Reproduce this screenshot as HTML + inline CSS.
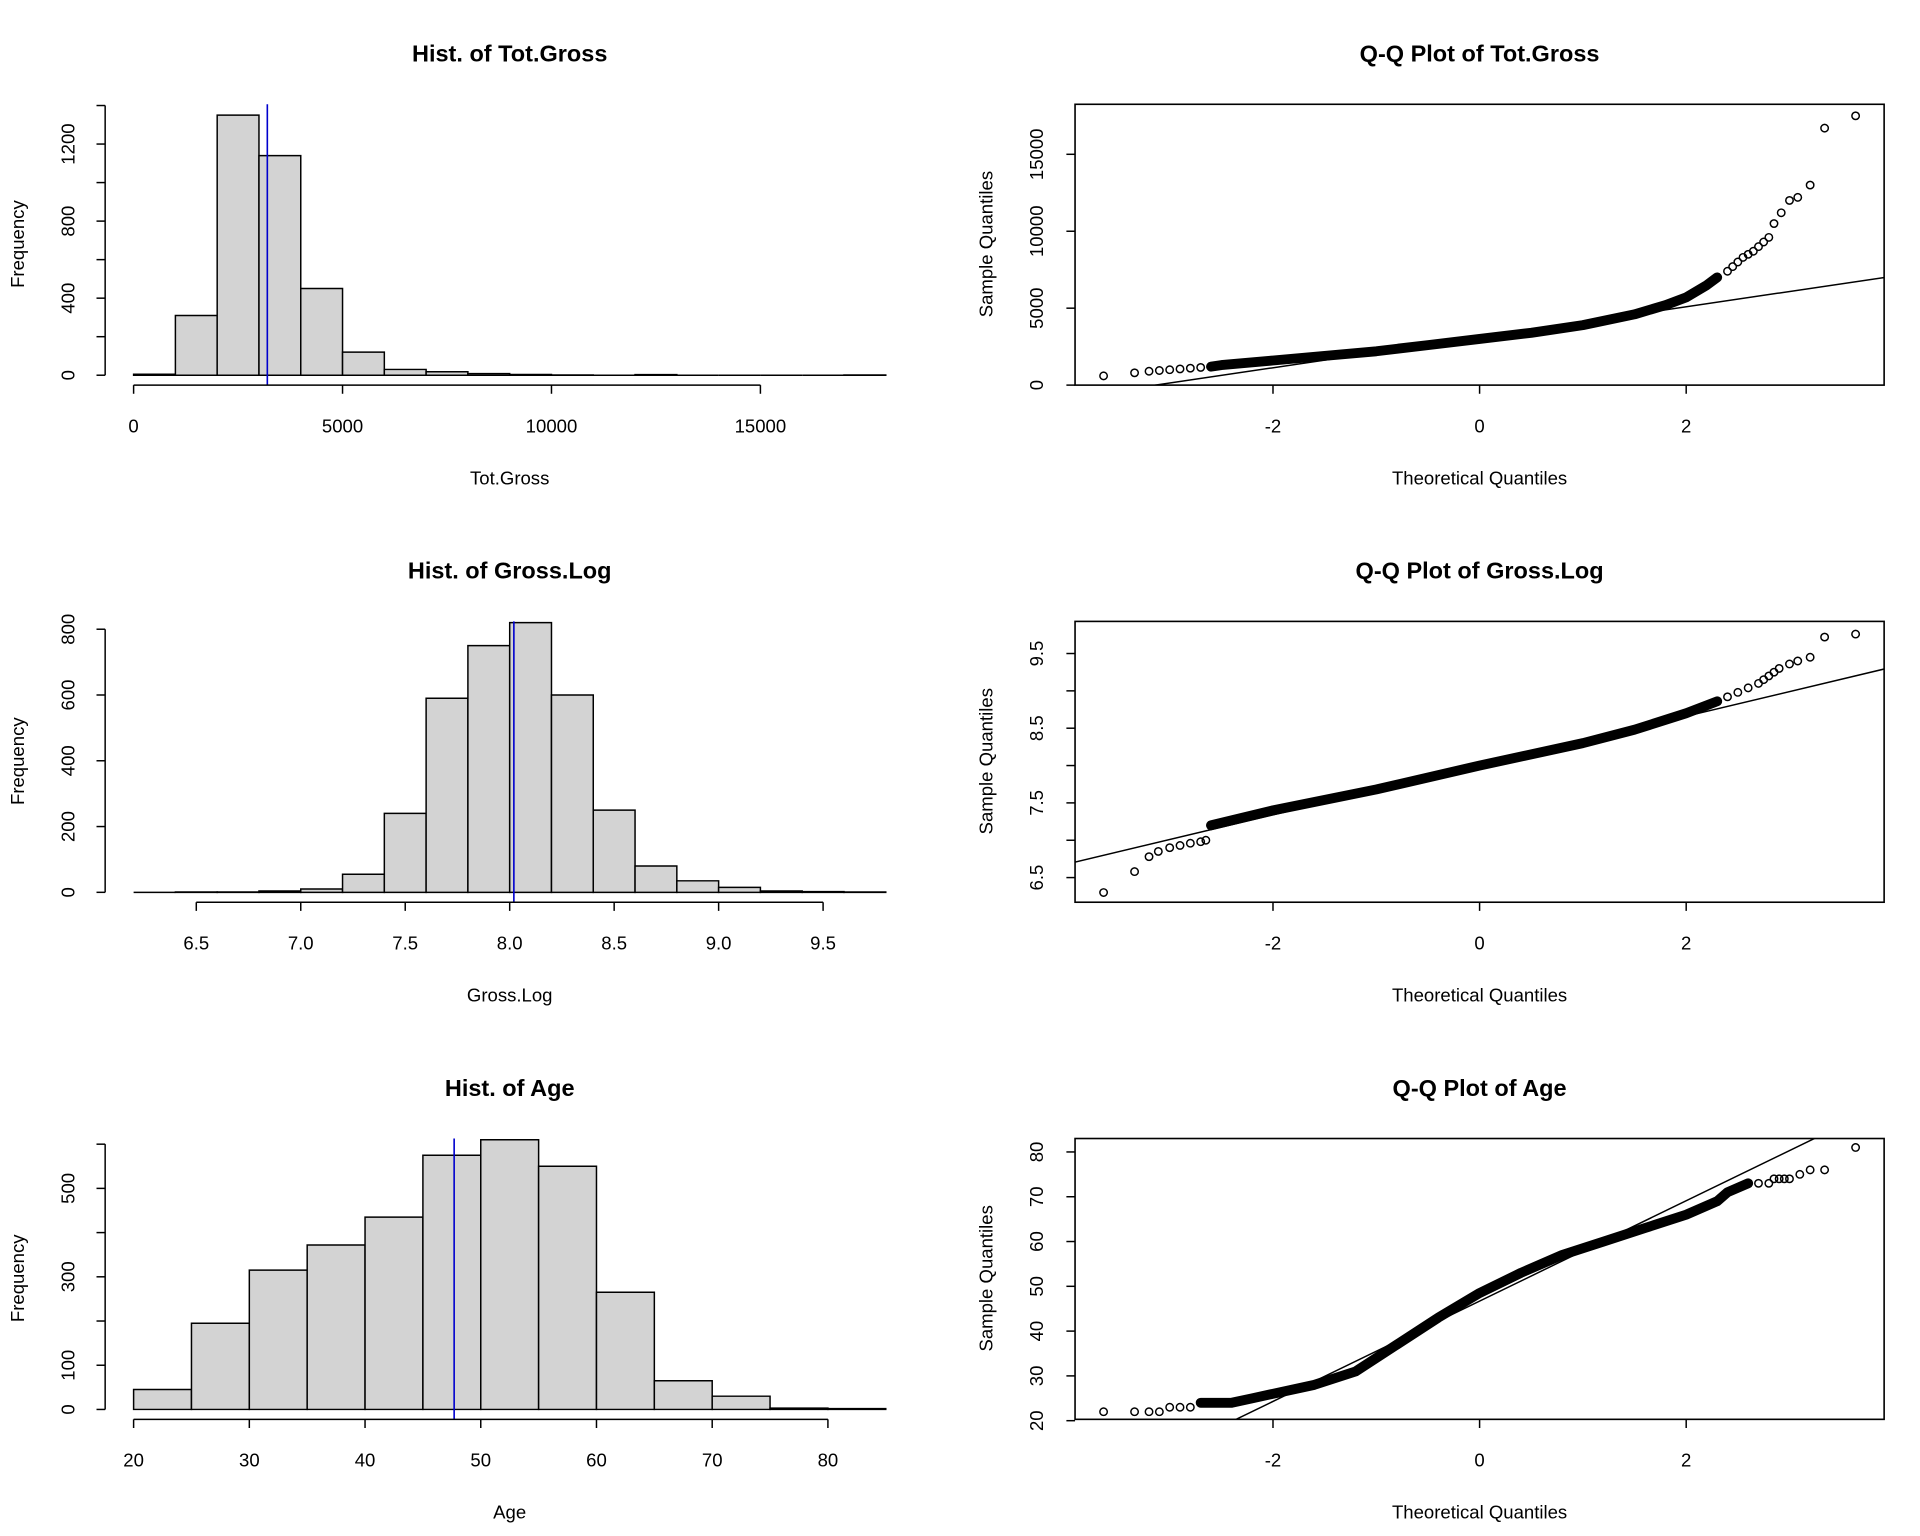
<!DOCTYPE html>
<html><head><meta charset="utf-8"><style>
html,body{margin:0;padding:0;background:#fff}
svg{display:block}
text{font-family:"Liberation Sans",Arial,sans-serif;fill:#000}
</style></head><body>
<svg id="chart" width="1920" height="1536" viewBox="0 0 1552 1241" xmlns="http://www.w3.org/2000/svg"></svg>
<script>
// ---------- data ----------
const h1Breaks = [0,1000,2000,3000,4000,5000,6000,7000,8000,9000,10000,11000,12000,13000,14000,15000,16000,17000,18000];
const h1Counts = [5,310,1350,1140,450,120,30,18,8,4,1,0,3,0,0,0,0,1];
const h1Mean = 3200;
const h1XTicks = [0,5000,10000,15000];
const h1XLabels = ['0','5000','10000','15000'];
const h1YTicks = [0,200,400,600,800,1000,1200,1400];
const h1YLabels = [0,400,800,1200];

const h2Breaks = [6.2,6.4,6.6,6.8,7.0,7.2,7.4,7.6,7.8,8.0,8.2,8.4,8.6,8.8,9.0,9.2,9.4,9.6,9.8];
const h2Counts = [0,1,1,4,10,55,240,590,750,820,600,250,80,35,15,4,2,1];
const h2Mean = 8.02;
const h2XTicks = [6.5,7.0,7.5,8.0,8.5,9.0,9.5];
const h2XLabels = ['6.5','7.0','7.5','8.0','8.5','9.0','9.5'];
const h2YTicks = [0,200,400,600,800];
const h2YLabels = [0,200,400,600,800];

const h3Breaks = [20,25,30,35,40,45,50,55,60,65,70,75,80,85];
const h3Counts = [45,195,315,372,435,575,610,550,265,65,30,3,2];
const h3Mean = 47.7;
const h3XTicks = [20,30,40,50,60,70,80];
const h3XLabels = ['20','30','40','50','60','70','80'];
const h3YTicks = [0,100,200,300,400,500,600];
const h3YLabels = [0,100,300,500];

const q1Theo = [-3.64,-3.34,-3.2,-3.1,-3.0,-2.9,-2.8,-2.7,-2.6,-2.5,-2.0,-1.5,-1.0,-0.5,0,0.5,1.0,1.5,1.8,2.0,2.1,2.2,2.3,2.4,2.45,2.5,2.55,2.6,2.65,2.7,2.75,2.8,2.85,2.92,3.0,3.08,3.2,3.34,3.64];
const q1Samp = [600,800,900,950,1000,1050,1100,1150,1200,1300,1600,1900,2200,2600,3000,3400,3900,4600,5200,5700,6100,6500,7000,7400,7700,8000,8300,8500,8700,9000,9300,9600,10500,11200,12000,12200,13000,16700,17500];
const q1Dense = [-2.6,2.3];
const q1Line = [3110,991];
const q1YTicks = [0,5000,10000,15000];

const q2Theo = [-3.64,-3.34,-3.2,-3.11,-3.0,-2.9,-2.8,-2.7,-2.65,-2.6,-2.0,-1.0,0,1.0,1.5,2.0,2.3,2.4,2.5,2.6,2.7,2.75,2.8,2.85,2.9,3.0,3.08,3.2,3.34,3.64];
const q2Samp = [6.3,6.58,6.78,6.85,6.9,6.93,6.96,6.98,7.0,7.2,7.4,7.68,8.0,8.3,8.48,8.7,8.86,8.92,8.98,9.04,9.1,9.15,9.2,9.25,9.3,9.36,9.4,9.45,9.72,9.76];
const q2Dense = [-2.6,2.3];
const q2Line = [8.0,0.33];
const q2YTicks = [6.5,7.0,7.5,8.0,8.5,9.0,9.5];
const q2YLabels = [6.5,7.5,8.5,9.5];

const q3Theo = [-3.64,-3.34,-3.2,-3.1,-3.0,-2.9,-2.8,-2.7,-2.4,-2.2,-2.0,-1.6,-1.2,-0.8,-0.4,0,0.4,0.8,1.2,1.6,2.0,2.3,2.4,2.6,2.7,2.8,2.85,2.9,2.95,3.0,3.1,3.2,3.34,3.64];
const q3Samp = [22,22,22,22,23,23,23,24,24,25,26,28,31,37,43,48.5,53,57,60,63,66,69,71,73,73,73,74,74,74,74,75,76,76,81];
const q3Dense = [-2.7,2.6];
const q3Line = [46.7,11.2];
const q3YTicks = [20,30,40,50,60,70,80];
const qXTicks = [-2,0,2];

// ---------- drawing ----------
const svg = document.getElementById('chart');
const NS = 'http://www.w3.org/2000/svg';
function mk(tag, attrs, parent){const e=document.createElementNS(NS,tag);for(const k in attrs)e.setAttribute(k,attrs[k]);(parent||svg).appendChild(e);return e;}
function txt(s,x,y,size,opts,parent){const t=mk('text',Object.assign({x:x,y:y,'font-size':size,'text-anchor':'middle','dominant-baseline':'central'},opts||{}),parent);t.textContent=s;return t;}

function hist(name, off, breaks, counts, mean, xt, xlab, yt, yl, xmin, xmax, ymax, title, xlabel){
  const g = mk('g',{});
  
  
  const top=84+off, bot=311+off, base=bot-8;
  const sx = v => 108 + (v-xmin)/(xmax-xmin)*(716-108);
  const sy = v => base - v/ymax*(base-top-1);
  const tt = txt(title,412,43+off,19,{'font-weight':'bold'},g);
  
  
  for(let i=0;i<counts.length;i++){
    const x0=sx(breaks[i]), x1=sx(breaks[i+1]), y=sy(counts[i]);
    const r = mk('path',{d:`M${x0},${base}L${x0},${y}L${x1},${y}L${x1},${base}Z`,fill:'#d3d3d3',stroke:'#000','stroke-width':1.2},g);
    
    
  }
  const ml = mk('line',{x1:sx(mean),x2:sx(mean),y1:top,y2:bot,stroke:'#0000cd','stroke-width':1.3},g);
  
  
  mk('line',{x1:sx(xt[0]),x2:sx(xt[xt.length-1]),y1:bot,y2:bot,stroke:'#000','stroke-width':1.2},g);
  xt.forEach((v,i)=>{mk('line',{x1:sx(v),x2:sx(v),y1:bot,y2:bot+7,stroke:'#000','stroke-width':1.2},g);txt(xlab[i],sx(v),344+off,15,{},g);});
  mk('line',{x1:85,x2:85,y1:sy(yt[0]),y2:sy(yt[yt.length-1]),stroke:'#000','stroke-width':1.2},g);
  yt.forEach(v=>mk('line',{x1:85,x2:78,y1:sy(v),y2:sy(v),stroke:'#000','stroke-width':1.2},g));
  yl.forEach(v=>txt(String(v),55,sy(v),15,{transform:`rotate(-90 55 ${sy(v)})`},g));
  const xl = txt(xlabel,412,386+off,15,{},g);
  
  
  const ylab = txt('Frequency',14,197+off,15,{transform:`rotate(-90 14 ${197+off})`},g);
  
  
}

function qq(name, off, theo, samp, dense, line, yt, yl, ymin, ymax, title){
  const g = mk('g',{});
  
  
  const top=84+off, bot=311+off;
  const sx = v => 1196 + v*83.5;
  const sy = v => bot - (v-ymin)/(ymax-ymin)*(bot-top);
  const tt = txt(title,1196,43+off,19,{'font-weight':'bold'},g);
  
  
  const clipId='c'+name;
  const cp = mk('clipPath',{id:clipId},g);
  mk('rect',{x:869,y:top,width:654,height:bot-top},cp);
  const x0=-4.0, x1=4.0;
  const ql = mk('line',{x1:sx(x0),y1:sy(line[0]+line[1]*x0),x2:sx(x1),y2:sy(line[0]+line[1]*x1),stroke:'#000','stroke-width':1.2,'clip-path':`url(#${clipId})`},g);
  
  
  let d='';
  theo.forEach((t,i)=>{ if(t>=dense[0]&&t<=dense[1]) d+=(d?'L':'M')+sx(t)+','+sy(samp[i]); });
  const band = mk('path',{d:d,fill:'none',stroke:'#000','stroke-width':8,'stroke-linejoin':'round','stroke-linecap':'round'},g);
  
  
  theo.forEach((t,i)=>{
    const c = mk('circle',{cx:sx(t),cy:sy(samp[i]),r:3,fill:'none',stroke:'#000','stroke-width':1.2},g);
    
    
  });
  const box = mk('rect',{x:869,y:top,width:654,height:bot-top,fill:'none',stroke:'#000','stroke-width':1.3},g);
  
  
  qXTicks.forEach(v=>{mk('line',{x1:sx(v),x2:sx(v),y1:bot,y2:bot+7,stroke:'#000','stroke-width':1.2},g);txt(String(v),sx(v),344+off,15,{},g);});
  yt.forEach(v=>mk('line',{x1:869,x2:862,y1:sy(v),y2:sy(v),stroke:'#000','stroke-width':1.2},g));
  yl.forEach(v=>txt(ymax<20?v.toFixed(1):String(v),838,sy(v),15,{transform:`rotate(-90 838 ${sy(v)})`},g));
  const xl = txt('Theoretical Quantiles',1196,386+off,15,{},g);
  
  
  const ylab = txt('Sample Quantiles',797,197+off,15,{transform:`rotate(-90 797 ${197+off})`},g);
  
  
}

hist('hist-tot-gross',0,h1Breaks,h1Counts,h1Mean,h1XTicks,h1XLabels,h1YTicks,h1YLabels,0,18000,1400,'Hist. of Tot.Gross','Tot.Gross');
hist('hist-gross-log',418,h2Breaks,h2Counts,h2Mean,h2XTicks,h2XLabels,h2YTicks,h2YLabels,6.2,9.8,820,'Hist. of Gross.Log','Gross.Log');
hist('hist-age',836,h3Breaks,h3Counts,h3Mean,h3XTicks,h3XLabels,h3YTicks,h3YLabels,20,85,610,'Hist. of Age','Age');
qq('qq-tot-gross',0,q1Theo,q1Samp,q1Dense,q1Line,q1YTicks,q1YTicks,0,18250,'Q-Q Plot of Tot.Gross');
qq('qq-gross-log',418,q2Theo,q2Samp,q2Dense,q2Line,q2YTicks,q2YLabels,6.17,9.93,'Q-Q Plot of Gross.Log');
qq('qq-age',836,q3Theo,q3Samp,q3Dense,q3Line,q3YTicks,q3YTicks,20.3,83.0,'Q-Q Plot of Age');
</script>
</body></html>
